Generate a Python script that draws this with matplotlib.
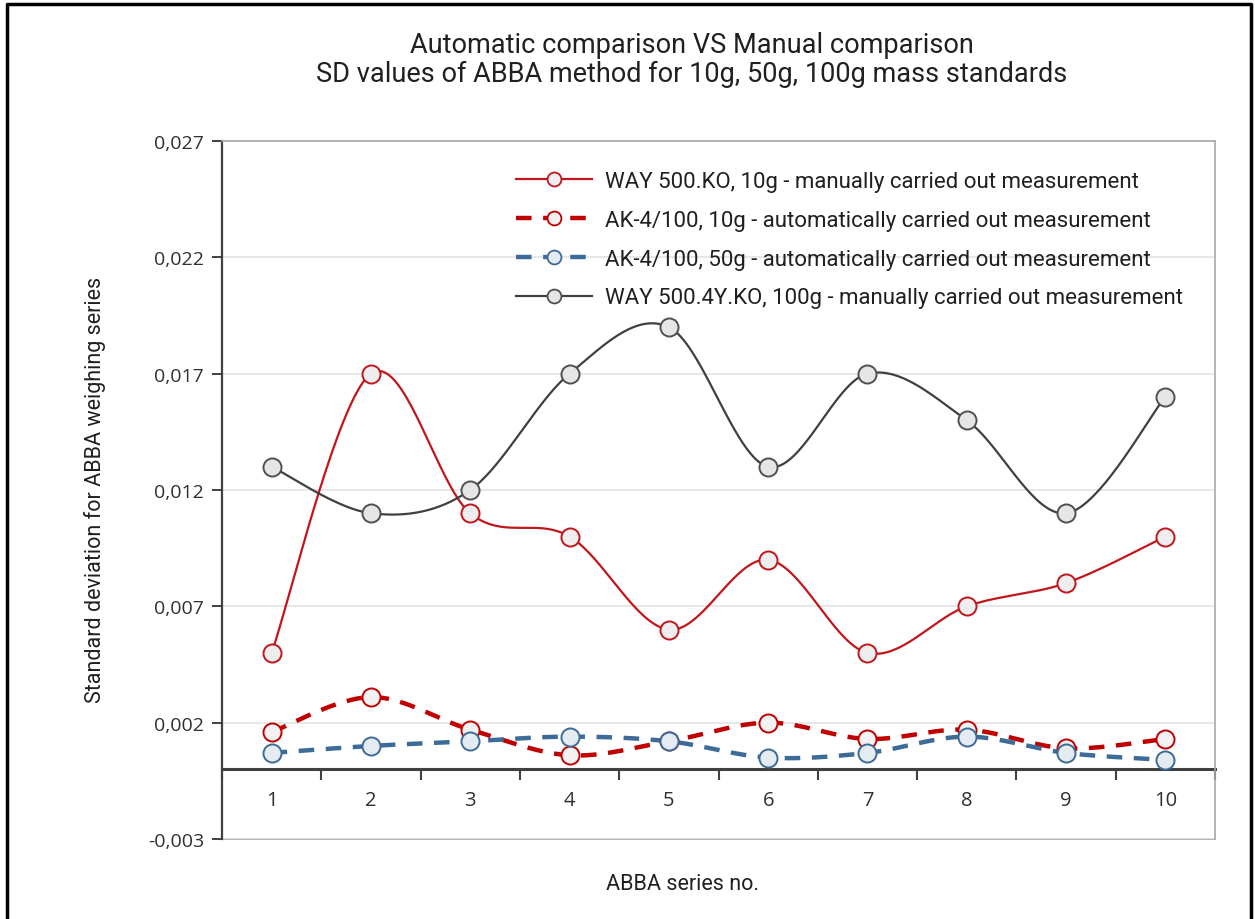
import numpy as np
import matplotlib
matplotlib.use("Agg")
import matplotlib.pyplot as plt
from matplotlib.lines import Line2D
from matplotlib.ticker import FuncFormatter, FixedLocator

# ---------------- data ----------------
series_no = [1, 2, 3, 4, 5, 6, 7, 8, 9, 10]
way_10g_manual = [0.005, 0.017, 0.011, 0.010, 0.006, 0.009, 0.005, 0.007, 0.008, 0.010]
ak_10g_auto = [0.0016, 0.0031, 0.0017, 0.0006, 0.0012, 0.0020, 0.0013, 0.0017, 0.0009, 0.0013]
ak_50g_auto = [0.0007, 0.0010, 0.0012, 0.0014, 0.0012, 0.0005, 0.0007, 0.0014, 0.0007, 0.0004]
way_100g_manual = [0.013, 0.011, 0.012, 0.017, 0.019, 0.013, 0.017, 0.015, 0.011, 0.016]

labels = [
    "WAY 500.KO, 10g - manually carried out measurement",
    "AK-4/100, 10g - automatically carried out measurement",
    "AK-4/100, 50g - automatically carried out measurement",
    "WAY 500.4Y.KO, 100g - manually carried out measurement",
]
y_ticks = [-0.003, 0.002, 0.007, 0.012, 0.017, 0.022, 0.027]
title = "Automatic comparison VS Manual comparison\nSD values of ABBA method for 10g, 50g, 100g mass standards"
x_label = "ABBA series no."
y_label = "Standard deviation for ABBA weighing series"


def smooth(xs, ys, n=40):
    """Catmull-Rom style smoothing (like spreadsheet 'smoothed line')."""
    xs = np.asarray(xs, float)
    ys = np.asarray(ys, float)
    P = np.column_stack([xs, ys])
    out = []
    m = len(P)
    for i in range(m - 1):
        p0 = P[i - 1] if i > 0 else P[i]
        p1 = P[i]
        p2 = P[i + 1]
        p3 = P[i + 2] if i + 2 < m else P[i + 1]
        c1 = p1 + (p2 - p0) / 6.0
        c2 = p2 - (p3 - p1) / 6.0
        t = np.linspace(0, 1, n)[:, None]
        seg = ((1 - t) ** 3) * p1 + 3 * ((1 - t) ** 2) * t * c1 + 3 * (1 - t) * t ** 2 * c2 + t ** 3 * p2
        if i > 0:
            seg = seg[1:]
        out.append(seg)
    out = np.vstack(out)
    return out[:, 0], out[:, 1]


W, H = 1255, 920
fig = plt.figure(figsize=(W / 100, H / 100), dpi=100)
fig.patch.set_facecolor("white")

ax = fig.add_axes([222 / W, 1 - 840 / H, (1215 - 222) / W, (840 - 142) / H])

styles = [
    dict(color="#c0161c", lw=1.6, ls="-", mec="#c0161c", mfc="#eeeeee"),
    dict(color="#c00000", lw=3.2, ls=(0, (3.5, 2.6)), mec="#c00000", mfc="#f2f2f2"),
    dict(color="#3d6b98", lw=3.2, ls=(0, (3.5, 2.6)), mec="#3d6b98", mfc="#e4ecf2"),
    dict(color="#404040", lw=1.6, ls="-", mec="#505050", mfc="#e6e6e6"),
]
data = [way_10g_manual, ak_10g_auto, ak_50g_auto, way_100g_manual]

handles = []
for ys, st, lab in zip(data, styles, labels):
    sx, sy = smooth(series_no, ys)
    ax.plot(sx, sy, color=st["color"], lw=st["lw"], ls=st["ls"], zorder=3,
            solid_capstyle="butt", dash_capstyle="butt")
    ax.plot(series_no, ys, ls="none", marker="o", ms=13, mfc=st["mfc"],
            mec=st["mec"], mew=1.4, zorder=4)
    handles.append(Line2D([], [], color=st["color"], lw=st["lw"], ls=st["ls"],
                          marker="o", ms=10, mfc=st["mfc"], mec=st["mec"], mew=1.3))

ax.set_xlim(0.5, 10.5)
ax.set_ylim(-0.003, 0.027)

# y axis
ax.yaxis.set_major_locator(FixedLocator(y_ticks))
ax.yaxis.set_major_formatter(FuncFormatter(lambda v, p: f"{v:.3f}".replace(".", ",")))
ax.tick_params(axis="y", direction="out", length=7, width=1.4, color="#404040",
               labelsize=14, labelcolor="#303030", pad=6)
for t in ax.get_yticklabels():
    t.set_fontfamily("Open Sans")
ax.grid(axis="y", color="#e3e3e3", lw=1.2, zorder=0)

# x axis at zero
ax.spines["bottom"].set_position(("data", 0))
ax.spines["bottom"].set_color("#404040")
ax.spines["bottom"].set_linewidth(2.2)
ax.spines["bottom"].set_zorder(2)
ax.xaxis.set_major_locator(FixedLocator(series_no))
ax.xaxis.set_minor_locator(FixedLocator(np.arange(0.5, 11.0, 1.0)))
ax.set_xticklabels([str(v) for v in series_no])
ax.tick_params(axis="x", which="major", length=0, pad=15, labelsize=14.5, labelcolor="#303030")
ax.tick_params(axis="x", which="minor", direction="out", length=8, width=1.5, color="#404040")
for t in ax.get_xticklabels():
    t.set_fontfamily("Open Sans")

ax.spines["left"].set_color("#404040")
ax.spines["left"].set_linewidth(1.6)
for s in ("top", "right"):
    ax.spines[s].set_color("#a8a8a8")
    ax.spines[s].set_linewidth(1.2)
ax.plot([0, 1], [0, 0], transform=ax.transAxes, color="#a8a8a8", lw=1.2, clip_on=False, zorder=1)

fig.text(95 / W, 1 - 490 / H, y_label, rotation=90, ha="center", va="center",
         fontsize=15.5, family="Roboto", color="#202020")

fig.text(683 / W, 1 - 885 / H, x_label, ha="center", va="center", fontsize=15.5,
         family="Roboto", color="#202020")

fig.text(692 / W, 1 - 60 / H, title, ha="center", va="center", fontsize=19.5,
         family="Roboto", color="#202020", linespacing=1.12)

leg = ax.legend(handles, labels, loc="upper left", bbox_to_anchor=(505 / W, 1 - 161 / H),
                bbox_transform=fig.transFigure, frameon=False,
                prop=dict(family="Roboto", size=16), handlelength=3.4,
                handletextpad=0.6, labelspacing=0.8, borderpad=0)
for t in leg.get_texts():
    t.set_color("#202020")

# figure border
bx = [7 / W, 7 / W, 1251 / W, 1251 / W]
by = [0, 1 - 5 / H, 1 - 5 / H, 0]
fig.add_artist(Line2D(bx, by, transform=fig.transFigure, color="black", lw=2.5))

fig.savefig("out.png", dpi=100)
